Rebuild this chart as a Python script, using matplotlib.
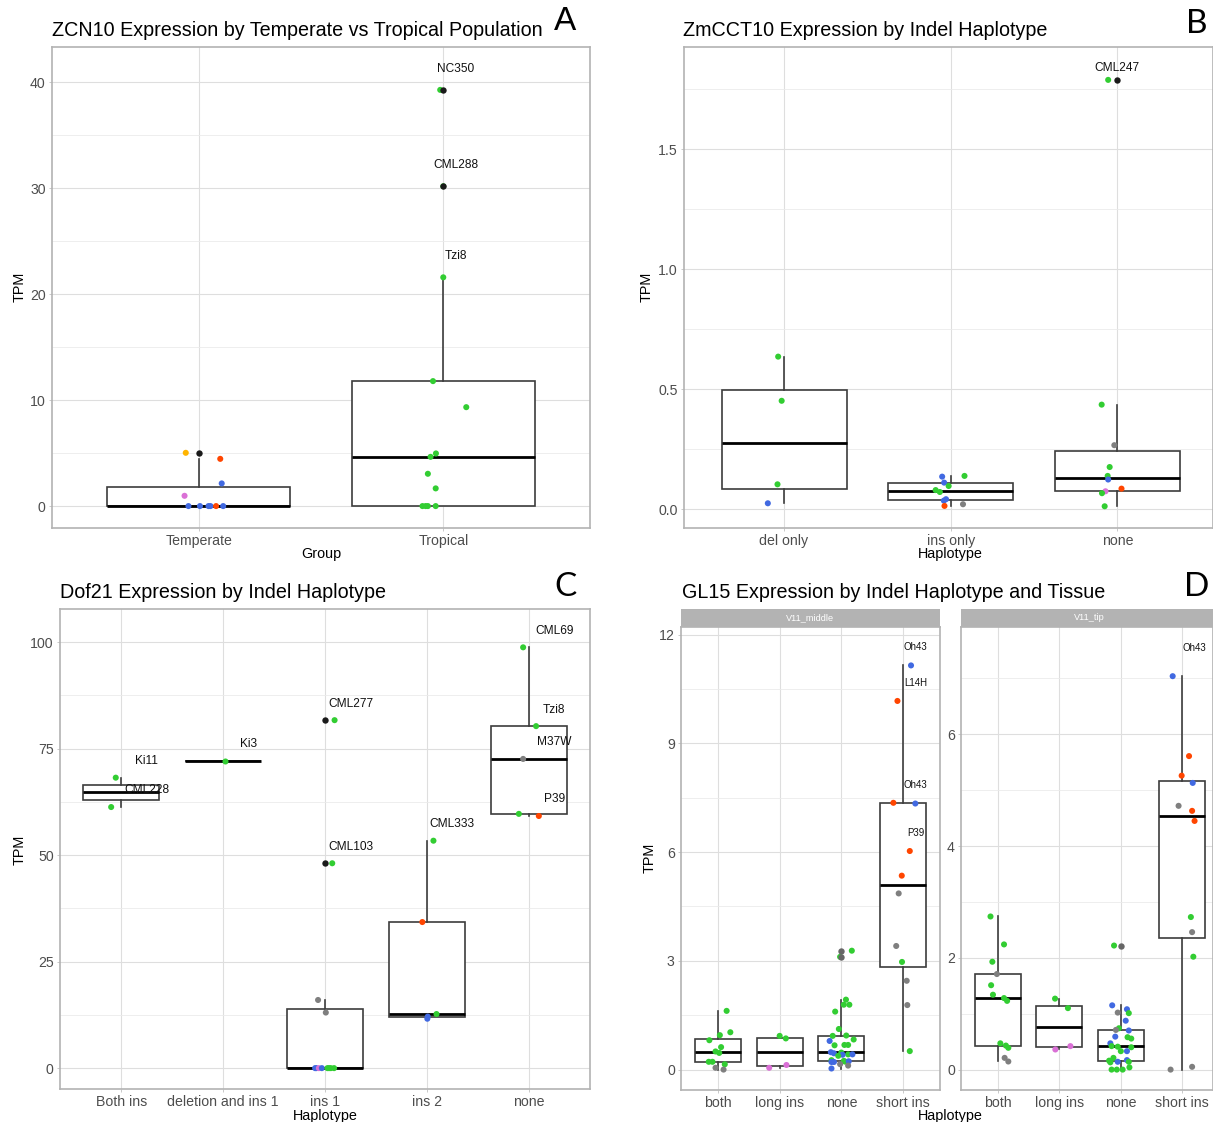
import matplotlib
matplotlib.use("Agg")
import matplotlib.pyplot as plt
from matplotlib.patches import Rectangle
from matplotlib.ticker import FuncFormatter
import numpy as np

plt.rcParams["font.family"] = ["Liberation Sans", "DejaVu Sans"]

W, H = 1213, 1122

# population colour codes
PALETTE = {
    "G": "#32CD32",  # limegreen
    "B": "#4169E1",  # royalblue
    "R": "#FF4500",  # orangered
    "O": "#FFB400",
    "P": "#DA70D6",  # orchid
    "S": "#7F7F7F",  # gray50
}

# ---- A: ZCN10 ----
A_GROUPS = ["Temperate", "Tropical"]
A_TPM = [
    [5.03, 4.46, 2.14, 0.97, 0, 0, 0, 0, 0, 0],
    [39.3, 30.2, 21.6, 11.8, 9.34, 4.97, 4.65, 3.05, 1.67, 0, 0, 0, 0],
]
A_POP = [
    ["O", "R", "B", "P", "B", "B", "B", "B", "R", "B"],
    ["G"] * 13,
]
A_JIT = [
    [-0.053, 0.088, 0.094, -0.058, -0.042, 0.005, 0.040, 0.048, 0.071, 0.100],
    [-0.0125, 0.0, 0.0, -0.042, 0.094, -0.030, -0.052, -0.063, -0.031,
     -0.085, -0.072, -0.063, -0.031],
]
A_LABELS = [("NC350", 1, 0), ("CML288", 1, 1), ("Tzi8", 1, 2)]

# ---- B: ZmCCT10 ----
B_GROUPS = ["del only", "ins only", "none"]
B_TPM = [
    [0.636, 0.452, 0.104, 0.025],
    [0.136, 0.139, 0.111, 0.097, 0.080, 0.072, 0.042, 0.036, 0.021, 0.014],
    [1.789, 0.436, 0.267, 0.176, 0.139, 0.124, 0.086, 0.075, 0.067, 0.0125],
]
B_POP = [
    ["G", "G", "G", "B"],
    ["B", "G", "B", "G", "G", "G", "B", "B", "S", "R"],
    ["G", "G", "S", "G", "G", "B", "R", "P", "G", "G"],
]
B_JIT = [
    [-0.035, -0.014, -0.039, -0.097],
    [-0.051, 0.083, -0.039, -0.012, -0.090, -0.065, -0.028, -0.041, 0.074, -0.037],
    [-0.055, -0.094, -0.018, -0.046, -0.058, -0.055, 0.025, -0.071, -0.092, -0.076],
]
B_LABELS = [("CML247", 2, 0)]

# ---- C: Dof21 ----
C_GROUPS = ["Both ins", "deletion and ins 1", "ins 1", "ins 2", "none"]
C_TPM = [
    [68.2, 61.3],
    [72.2],
    [81.7, 48.1, 16.0, 13.05, 0, 0, 0, 0, 0, 0, 0, 0],
    [53.4, 34.3, 12.7, 12.1, 11.6],
    [98.8, 80.3, 72.6, 59.7, 59.2],
]
C_POP = [
    ["G", "G"],
    ["G"],
    ["G", "G", "S", "S", "B", "B", "P", "B", "G", "G", "G", "G"],
    ["G", "R", "G", "B", "B"],
    ["G", "G", "S", "G", "R"],
]
C_JIT = [
    [-0.053, -0.098],
    [0.023],
    [0.094, 0.071, -0.068, 0.008, -0.097, -0.085, -0.060, -0.031,
     0.024, 0.040, 0.057, 0.089],
    [0.064, -0.045, 0.094, 0.008, 0.004],
    [-0.056, 0.071, -0.056, -0.098, 0.098],
]
C_LABELS = [("Ki11", 0, 0), ("CML228", 0, 1), ("Ki3", 1, 0), ("CML277", 2, 0),
            ("CML103", 2, 1), ("CML333", 3, 0), ("CML69", 4, 0), ("Tzi8", 4, 1),
            ("M37W", 4, 2), ("P39", 4, 4)]

# ---- D: GL15, two tissues ----
D_GROUPS = ["both", "long ins", "none", "short ins"]
D_TISSUES = ["V11_middle", "V11_tip"]
D_MID_TPM = [
    [1.62, 1.03, 0.95, 0.81, 0.62, 0.50, 0.46, 0.215, 0.215, 0.146, 0.05, 0.0],
    [0.93, 0.86, 0.127, 0.05],
    [3.28, 3.11, 1.93, 1.79, 1.79, 1.60, 1.12, 0.94, 0.93, 0.83, 0.79, 0.68,
     0.68, 0.67, 0.48, 0.47, 0.45, 0.42, 0.42, 0.41, 0.38, 0.26, 0.24, 0.22,
     0.23, 0.21, 0.21, 0.15, 0.11, 0.03],
    [11.15, 10.17, 7.36, 7.34, 6.03, 5.35, 4.86, 3.41, 2.97, 2.45, 1.78, 0.51],
]
D_MID_POP = [
    ["G"] * 10 + ["S", "S"],
    ["G", "G", "P", "P"],
    ["G", "G", "G", "G", "G", "G", "G", "G", "G", "G", "B", "G",
     "G", "G", "B", "G", "B", "G", "B", "B", "G", "G", "G", "G",
     "B", "B", "B", "S", "S", "B"],
    ["B", "R", "R", "B", "R", "R", "S", "S", "G", "S", "S", "G"],
]
D_MID_JIT = [
    [0.14, 0.20, 0.03, -0.14, 0.05, -0.04, 0.02, -0.15, -0.09, 0.11, -0.04, 0.09],
    [0.0, 0.10, 0.11, -0.17],
    [0.17, -0.02, 0.075, 0.04, 0.13, -0.10, -0.04, 0.08, -0.14, 0.20, -0.19, 0.05,
     0.11, -0.11, -0.17, 0.0, -0.12, 0.11, 0.18, 0.02, -0.05, -0.16, 0.04, 0.06,
     0.12, -0.16, -0.12, -0.02, 0.11, -0.16],
    [0.13, -0.09, -0.156, 0.20, 0.11, -0.02, -0.07, -0.11, -0.016, 0.06, 0.07, 0.11],
]
D_MID_LABELS = [("Oh43", 3, 0), ("L14H", 3, 1), ("Oh43", 3, 3), ("P39", 3, 4)]

D_TIP_TPM = [
    [2.74, 2.24, 1.93, 1.71, 1.51, 1.34, 1.28, 1.23, 0.47, 0.43, 0.39, 0.21, 0.145],
    [1.27, 1.10, 0.42, 0.36],
    [2.22, 1.15, 1.08, 1.02, 1.01, 0.875, 0.74, 0.71, 0.70, 0.59, 0.58, 0.555,
     0.47, 0.42, 0.41, 0.40, 0.33, 0.33, 0.21, 0.17, 0.16, 0.14, 0.13, 0.14,
     0.04, 0.0, 0.0, 0.0],
    [7.04, 5.61, 5.26, 5.13, 4.72, 4.63, 4.45, 2.73, 2.46, 2.02, 0.05, 0.0],
]
D_TIP_POP = [
    ["G", "G", "G", "S", "G", "G", "G", "G", "G", "G", "G", "S", "S"],
    ["G", "G", "P", "P"],
    ["G", "B", "B", "S", "G", "B", "G", "S", "B", "B", "G", "G",
     "B", "G", "G", "G", "G", "B", "G", "B", "G", "B", "G", "G",
     "G", "G", "G", "G"],
    ["B", "R", "R", "B", "S", "R", "R", "G", "S", "G", "S", "S"],
]
D_TIP_JIT = [
    [-0.12, 0.10, -0.09, -0.016, -0.11, -0.08, 0.10, 0.15, 0.04, 0.13, 0.17, 0.11, 0.17],
    [-0.07, 0.14, 0.18, -0.065],
    [-0.11, -0.14, 0.10, -0.05, 0.13, 0.08, -0.03, -0.08, 0.13, -0.09, 0.11, 0.17,
     -0.17, -0.15, -0.05, 0.17, 0.0, 0.10, -0.12, 0.10, -0.19, -0.05, -0.17, 0.13,
     0.14, -0.15, -0.065, 0.03],
    [-0.156, 0.11, -0.01, 0.17, -0.06, 0.16, 0.20, 0.14, 0.16, 0.18, 0.16, -0.19],
]
D_TIP_LABELS = [("Oh43", 3, 0)]

BORDER = "#B3B3B3"
GRID = "#DEDEDE"
GRID_MINOR = "#EBEBEB"
TICK_TXT = "#4D4D4D"


def px_axes(fig, x0, y0, x1, y1):
    """Add axes given a pixel box (top-left origin)."""
    return fig.add_axes([x0 / W, 1 - y1 / H, (x1 - x0) / W, (y1 - y0) / H])


def fig_text(fig, x, y, s, **kw):
    fig.text(x / W, 1 - y / H, s, **kw)


def draw_panel(ax, groups, tpm, pop, jit, labels, ylim, major, minor,
               xlim=None, fmt="{:g}", outlier="#1A1A1A", nudge=(0.0, 0.0),
               label_size=8.6):
    pos = np.arange(1, len(groups) + 1)
    bp = ax.boxplot(
        tpm, positions=pos, widths=0.75, patch_artist=True, showcaps=False,
        whis=1.5,
        boxprops=dict(facecolor="white", edgecolor="#3C3C3C", linewidth=1.2),
        whiskerprops=dict(color="#3C3C3C", linewidth=1.2),
        medianprops=dict(color="black", linewidth=2.0),
        flierprops=dict(marker="o", markerfacecolor=outlier,
                        markeredgecolor="none", markersize=4.6),
    )
    for fl in bp["fliers"]:
        fl.set_zorder(4)

    for i, (vals, cols, js) in enumerate(zip(tpm, pop, jit)):
        ax.scatter(pos[i] + np.array(js), vals, s=19, linewidths=0,
                   c=[PALETTE[c] for c in cols], zorder=3)

    for name, g, k in labels:
        ax.text(pos[g] + nudge[0], tpm[g][k] + nudge[1], name,
                ha="center", va="center", fontsize=label_size, color="#111111",
                zorder=5)

    ax.set_xticks(pos)
    ax.set_xticklabels(groups)
    ax.set_xlim(xlim if xlim else (0.4, len(groups) + 0.6))
    ax.set_ylim(*ylim)
    ax.set_yticks(major)
    ax.set_yticks(minor, minor=True)
    ax.yaxis.set_major_formatter(FuncFormatter(lambda v, p: fmt.format(v)))
    ax.set_axisbelow(True)
    ax.grid(which="major", color=GRID, linewidth=0.8)
    ax.grid(which="minor", axis="y", color=GRID_MINOR, linewidth=0.6)
    for sp in ax.spines.values():
        sp.set_color(BORDER)
        sp.set_linewidth(1.2)
    ax.tick_params(which="major", length=2, width=0.5, color=BORDER, pad=2.5,
                   labelsize=10.2, labelcolor=TICK_TXT)
    ax.tick_params(which="minor", length=0)


fig = plt.figure(figsize=(W / 100, H / 100), dpi=100)

# panel A
ax = px_axes(fig, 52, 47, 590, 528)
draw_panel(ax, A_GROUPS, A_TPM, A_POP, A_JIT, A_LABELS, (-2.07, 43.35),
           [0, 10, 20, 30, 40], [5, 15, 25, 35], nudge=(0.05, 2.0))
fig_text(fig, 52, 30, "ZCN10 Expression by Temperate vs Tropical Population",
         fontsize=14.2, ha="left", va="center")
fig_text(fig, 565, 22, "A", fontsize=24, ha="center", va="center")
fig_text(fig, 321, 554, "Group", fontsize=10.4, ha="center", va="center")
fig_text(fig, 20, 287, "TPM", fontsize=10.4, ha="center", va="center", rotation=90)

# panel B
ax = px_axes(fig, 684, 47, 1213, 528)
draw_panel(ax, B_GROUPS, B_TPM, B_POP, B_JIT, B_LABELS, (-0.078, 1.926),
           [0, 0.5, 1.0, 1.5], [0.25, 0.75, 1.25, 1.75],
           xlim=(0.4, 3.574), fmt="{:.1f}", nudge=(0.0, 0.05))
fig_text(fig, 683, 30, "ZmCCT10 Expression by Indel Haplotype",
         fontsize=14.2, ha="left", va="center")
fig_text(fig, 1197, 24, "B", fontsize=24, ha="center", va="center",
         family=["Lato", "DejaVu Sans"])
fig_text(fig, 950, 554, "Haplotype", fontsize=10.4, ha="center", va="center")
fig_text(fig, 647, 287, "TPM", fontsize=10.4, ha="center", va="center", rotation=90)

# panel C
ax = px_axes(fig, 60, 609, 590, 1089)
draw_panel(ax, C_GROUPS, C_TPM, C_POP, C_JIT, C_LABELS, (-4.9, 107.8),
           [0, 25, 50, 75, 100], [12.5, 37.5, 62.5, 87.5], nudge=(0.25, 3.9))
fig_text(fig, 60, 592, "Dof21 Expression by Indel Haplotype",
         fontsize=14.2, ha="left", va="center")
fig_text(fig, 566, 587, "C", fontsize=24, ha="center", va="center",
         family=["Lato", "DejaVu Sans"])
fig_text(fig, 325, 1116, "Haplotype", fontsize=10.4, ha="center", va="center")
fig_text(fig, 20, 850, "TPM", fontsize=10.4, ha="center", va="center", rotation=90)

# panel D: one facet per tissue, free y scales
facets = [
    (681, 940, (-0.563, 12.21), [0, 3, 6, 9, 12], [1.5, 4.5, 7.5, 10.5], None,
     D_MID_TPM, D_MID_POP, D_MID_JIT, D_MID_LABELS),
    (961, 1213, (-0.365, 7.92), [0, 2, 4, 6], [1, 3, 5, 7], (0.4, 4.50),
     D_TIP_TPM, D_TIP_POP, D_TIP_JIT, D_TIP_LABELS),
]
for tissue, (x0, x1, yl, maj, mnr, xl, tpm, pop, jit, labs) in zip(D_TISSUES, facets):
    ax = px_axes(fig, x0, 627, x1, 1090)
    draw_panel(ax, D_GROUPS, tpm, pop, jit, labs, yl, maj, mnr, xlim=xl,
               outlier="#666666", nudge=(0.205, 0.5), label_size=7)
    fig.add_artist(Rectangle((x0 / W, 1 - 627 / H), (x1 - x0) / W, 18 / H,
                             transform=fig.transFigure, facecolor=BORDER,
                             edgecolor="none"))
    fig_text(fig, (x0 + x1) / 2 if x1 < 1213 else 1089, 618, tissue,
             fontsize=6.6, color="white", ha="center", va="center")

fig_text(fig, 682, 592, "GL15 Expression by Indel Haplotype and Tissue",
         fontsize=14.2, ha="left", va="center")
fig_text(fig, 1197, 587, "D", fontsize=24, ha="center", va="center",
         family=["Lato", "DejaVu Sans"])
fig_text(fig, 950, 1116, "Haplotype", fontsize=10.4, ha="center", va="center")
fig_text(fig, 650, 858, "TPM", fontsize=10.4, ha="center", va="center", rotation=90)

fig.savefig("out.png", dpi=100, facecolor="white")
